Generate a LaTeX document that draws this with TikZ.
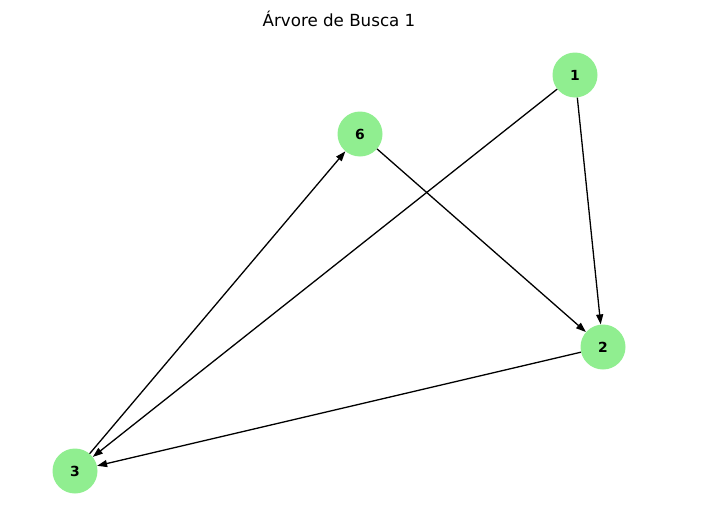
\documentclass[tikz,border=0pt]{standalone}
\usepackage{fontspec}
\setmainfont{DejaVu Sans}
\usetikzlibrary{arrows.meta}

\definecolor{vgreen}{RGB}{144,238,144}
\tikzset{
    vertex/.style={circle, fill=vgreen, minimum size=45pt, inner sep=0pt, font=\bfseries\fontsize{13.9}{16}\selectfont},
    edge/.style={->, black, line width=1.3pt}
}

\begin{document}
\begin{tikzpicture}[x=1pt, y=-1pt, >={Stealth[length=10pt, width=7pt, inset=0pt]}]

    \useasboundingbox (0,0) rectangle (704,506);

    % title
    \node (title) at (339,19) {\fontsize{16.7}{19}\selectfont Árvore de Busca 1};

    % the vertices
    \node[vertex] (n1) at (575,75) {1};
    \node[vertex] (n6) at (360,134) {6};
    \node[vertex] (n2) at (603,347) {2};
    \node[vertex] (n3) at (75,471) {3};

    % the edges
    \draw[edge] (n1) -- (n2);
    \draw[edge] (n1) -- (n3);
    \draw[edge] (n6) -- (n2);
    \draw[edge] (n2) -- (n3);
    \draw[edge] (n3) -- (n6);

\end{tikzpicture}
\end{document}
